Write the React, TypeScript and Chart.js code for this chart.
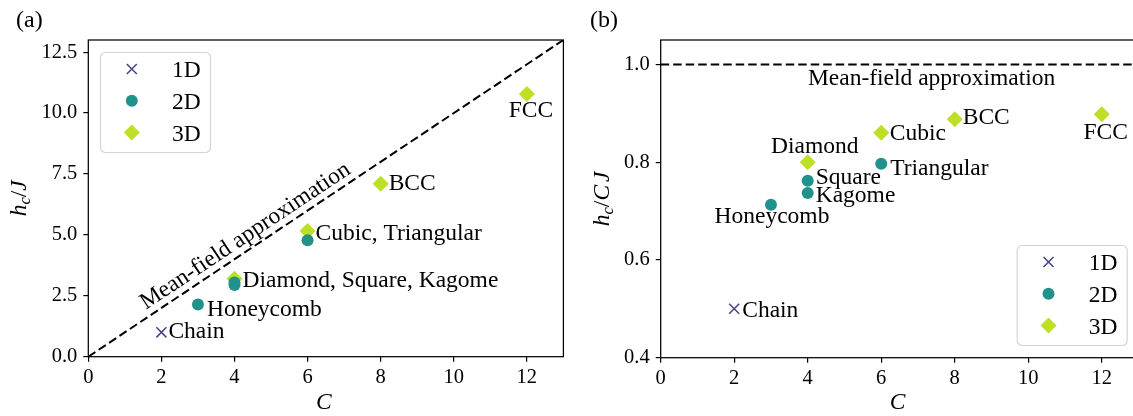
import React, { useEffect, useRef } from 'react';
import { Chart, registerables } from 'chart.js';

Chart.register(...registerables);

const SERIF = '"Liberation Serif", "Times New Roman", serif';
const INK = '#000000';
const ANN_SIZE = 23.5;

// ---------- data ----------
const coordination1D = [2];
const coordination2D = [3, 4, 4, 6];
const coordination3D = [4, 6, 8, 12];
const hc1D = [1.0];
const hc2D = [2.14, 2.94, 3.05, 4.78];
const hc3D = [3.2, 5.16, 7.1, 10.78];
const ratio1D = [0.5];
const ratio2D = [0.713, 0.737, 0.762, 0.797];
const ratio3D = [0.8, 0.86, 0.888, 0.898];

const meanFieldA = [{ x: 0, y: 0 }, { x: 13, y: 13 }];
const meanFieldB = [{ x: 0, y: 1.0 }, { x: 13, y: 1.0 }];

const xTickValues = [0, 2, 4, 6, 8, 10, 12];
const yTicksA = [0, 2.5, 5, 7.5, 10, 12.5];
const yTicksB = [0.4, 0.6, 0.8, 1.0];

const legendLabels = ['1D', '2D', '3D'];

const labelsA = ['Chain', 'Honeycomb', 'Diamond, Square, Kagome', 'Cubic, Triangular', 'BCC', 'FCC'];
const labelXA = [2, 3, 4, 6, 8, 12];
const labelYA = [1.0, 2.14, 3.2, 5.16, 7.1, 10.78];

const labelsB = ['Chain', 'Honeycomb', 'Kagome', 'Square', 'Diamond', 'Triangular', 'Cubic', 'BCC', 'FCC'];
const labelXB = [2, 3, 4, 4, 4, 6, 6, 8, 12];
const labelYB = [0.5, 0.713, 0.737, 0.762, 0.8, 0.797, 0.86, 0.888, 0.898];

const meanFieldText = 'Mean-field approximation';
const meanFieldAnchorA = { x: 4.5, y: 4.5 };
const meanFieldAnchorB = { x: 7.37, y: 1.0 };

// ---------- styles ----------
const COLOR_1D = '#414487';
const COLOR_2D = '#21918c';
const COLOR_3D = '#bddf26';

// [dx, dy, align] pixel offsets of label baseline from its point
const offsetsA: [number, number, CanvasTextAlign][] = [
  [7, 6, 'left'], [9, 11, 'left'], [8, 8, 'left'], [8, 9, 'left'], [8, 6, 'left'], [4, 23, 'center'],
];
const offsetsB: [number, number, CanvasTextAlign][] = [
  [8, 8, 'left'], [1, 18, 'center'], [8, 9.5, 'left'], [8, 3, 'left'], [7, -9, 'center'],
  [9, 11, 'left'], [8.5, 7, 'left'], [8, 5, 'left'], [4, 25, 'center'],
];

const zip = (xs: number[], ys: number[]) => xs.map((x, i) => ({ x, y: ys[i] }));

function drawMarker(ctx: CanvasRenderingContext2D, kind: number, x: number, y: number) {
  ctx.save();
  if (kind === 0) {
    const h = 5;
    ctx.strokeStyle = COLOR_1D;
    ctx.lineWidth = 1.5;
    ctx.beginPath();
    ctx.moveTo(x - h, y - h); ctx.lineTo(x + h, y + h);
    ctx.moveTo(x - h, y + h); ctx.lineTo(x + h, y - h);
    ctx.stroke();
  } else if (kind === 1) {
    ctx.fillStyle = COLOR_2D;
    ctx.beginPath();
    ctx.arc(x, y, 6, 0, Math.PI * 2);
    ctx.fill();
  } else {
    const r = 8;
    ctx.fillStyle = COLOR_3D;
    ctx.beginPath();
    ctx.moveTo(x - r, y); ctx.lineTo(x, y - r); ctx.lineTo(x + r, y); ctx.lineTo(x, y + r);
    ctx.closePath();
    ctx.fill();
  }
  ctx.restore();
}

type Part = { t: string; italic?: boolean; size?: number; dy?: number; gap?: number };

function drawParts(ctx: CanvasRenderingContext2D, parts: Part[], cx: number, baseline: number) {
  const widths = parts.map((p) => {
    ctx.font = `${p.italic ? 'italic ' : ''}${p.size ?? ANN_SIZE}px ${SERIF}`;
    return ctx.measureText(p.t).width + (p.gap ?? 0);
  });
  const total = widths.reduce((a, b) => a + b, 0);
  let x = cx - total / 2;
  parts.forEach((p, i) => {
    ctx.font = `${p.italic ? 'italic ' : ''}${p.size ?? ANN_SIZE}px ${SERIF}`;
    ctx.fillText(p.t, x, baseline + (p.dy ?? 0));
    x += widths[i];
  });
}

type PanelCfg = {
  panel: string;
  panelLabelX: number;
  yMin: number; yMax: number;
  yTicks: number[];
  yTitle: Part[];
  yTitleX: number;
  padRight: number;
  yAxisWidth: number;
  xAxisHeight: number;
  hc1: number[]; hc2: number[]; hc3: number[];
  meanField: { x: number; y: number }[];
  labels: string[]; lx: number[]; ly: number[];
  offsets: [number, number, CanvasTextAlign][];
  meanAnchor: { x: number; y: number };
  meanRotated: boolean;
  legendPos: 'ul' | 'lr';
};

function makePlugin(cfg: PanelCfg) {
  return {
    id: 'decor' + cfg.panel,
    afterDatasetsDraw(chart: any) {
      const ctx: CanvasRenderingContext2D = chart.ctx;
      const xs = chart.scales.x;
      const ys = chart.scales.y;
      const ca = chart.chartArea;
      ctx.save();
      ctx.fillStyle = INK;
      ctx.font = `${ANN_SIZE}px ${SERIF}`;
      ctx.textBaseline = 'alphabetic';
      cfg.labels.forEach((t, i) => {
        const [dx, dy, al] = cfg.offsets[i];
        ctx.textAlign = al;
        ctx.fillText(t, xs.getPixelForValue(cfg.lx[i]) + dx, ys.getPixelForValue(cfg.ly[i]) + dy);
      });
      // mean-field label
      const mx = xs.getPixelForValue(cfg.meanAnchor.x);
      const my = ys.getPixelForValue(cfg.meanAnchor.y);
      ctx.textAlign = 'center';
      if (cfg.meanRotated) {
        const p0x = xs.getPixelForValue(cfg.meanField[0].x);
        const p0y = ys.getPixelForValue(cfg.meanField[0].y);
        const p1x = xs.getPixelForValue(cfg.meanField[1].x);
        const p1y = ys.getPixelForValue(cfg.meanField[1].y);
        const ang = Math.atan2(p1y - p0y, p1x - p0x);
        ctx.translate(mx, my);
        ctx.rotate(ang);
        ctx.fillText(meanFieldText, 0, -7);
        ctx.setTransform(1, 0, 0, 1, 0, 0);
      } else {
        ctx.fillText(meanFieldText, mx, my + 21);
      }
      // spines
      ctx.strokeStyle = '#000';
      ctx.lineWidth = 1.25;
      ctx.strokeRect(ca.left, ca.top, ca.right - ca.left, ca.bottom - ca.top);
      ctx.restore();
    },
    afterDraw(chart: any) {
      const ctx: CanvasRenderingContext2D = chart.ctx;
      const ca = chart.chartArea;
      ctx.save();
      // legend
      const w = 110, h = 100;
      const bx = cfg.legendPos === 'ul' ? ca.left + 11.7 : ca.right - 11.8 - w;
      const by = cfg.legendPos === 'ul' ? ca.top + 12 : ca.bottom - 12.7 - h;
      ctx.beginPath();
      ctx.roundRect(bx + 0.5, by + 0.5, w, h, 5);
      ctx.fillStyle = 'rgba(255,255,255,0.8)';
      ctx.fill();
      ctx.strokeStyle = '#d5d5d5';
      ctx.lineWidth = 1.2;
      ctx.stroke();
      ctx.font = `${ANN_SIZE}px ${SERIF}`;
      ctx.fillStyle = INK;
      ctx.textAlign = 'left';
      ctx.textBaseline = 'alphabetic';
      legendLabels.forEach((t, i) => {
        const ry = by + 17 + i * 31.8;
        drawMarker(ctx, i, bx + 31.8, ry);
        ctx.fillStyle = INK;
        ctx.fillText(t, bx + 72, ry + 8);
      });
      // axis titles
      ctx.textAlign = 'left';
      drawParts(ctx, [{ t: 'C', italic: true }], (ca.left + ca.right) / 2 - 2, 409);
      ctx.translate(cfg.yTitleX, (ca.top + ca.bottom) / 2);
      ctx.rotate(-Math.PI / 2);
      drawParts(ctx, cfg.yTitle, 0, 7);
      ctx.setTransform(1, 0, 0, 1, 0, 0);
      // panel label
      ctx.font = `24px ${SERIF}`;
      ctx.fillText(cfg.panel, cfg.panelLabelX, 27);
      ctx.restore();
    },
  };
}

function makeChart(canvas: HTMLCanvasElement, cfg: PanelCfg) {
  const fontTicks = { family: SERIF, size: 20.5 };
  return new Chart(canvas, {
    type: 'scatter',
    data: {
      datasets: [
        {
          label: 'mean field',
          data: cfg.meanField,
          showLine: true,
          borderColor: '#000',
          borderWidth: 2,
          borderDash: [8.5, 4],
          pointRadius: 0,
          fill: false,
        } as any,
        {
          label: '1D',
          data: zip(coordination1D, cfg.hc1),
          pointStyle: 'crossRot',
          pointRadius: 7.1,
          borderColor: COLOR_1D,
          backgroundColor: COLOR_1D,
          borderWidth: 1.5,
        },
        {
          label: '2D',
          data: zip(coordination2D, cfg.hc2),
          pointStyle: 'circle',
          pointRadius: 6,
          borderWidth: 0,
          backgroundColor: COLOR_2D,
        },
        {
          label: '3D',
          data: zip(coordination3D, cfg.hc3),
          pointStyle: 'rectRot',
          pointRadius: 8,
          borderWidth: 0,
          backgroundColor: COLOR_3D,
        },
      ],
    },
    options: {
      responsive: false,
      animation: false,
      events: [],
      layout: { padding: { left: 0, top: 40, right: cfg.padRight, bottom: 0 } },
      plugins: { legend: { display: false }, tooltip: { enabled: false } },
      scales: {
        x: {
          type: 'linear',
          min: 0,
          max: 13,
          afterBuildTicks: (s: any) => { s.ticks = xTickValues.map((v) => ({ value: v })); },
          afterFit: (s: any) => { s.height = cfg.xAxisHeight; },
          ticks: { font: fontTicks, color: INK, padding: 4, maxRotation: 0, callback: (v: any) => String(v) },
          grid: { drawOnChartArea: false, drawTicks: true, tickLength: 5, color: '#000', lineWidth: 1.2 },
          border: { display: false },
        },
        y: {
          type: 'linear',
          min: cfg.yMin,
          max: cfg.yMax,
          afterBuildTicks: (s: any) => { s.ticks = cfg.yTicks.map((v) => ({ value: v })); },
          afterFit: (s: any) => { s.width = cfg.yAxisWidth; },
          ticks: { font: fontTicks, color: INK, padding: 6, callback: (v: any) => Number(v).toFixed(1) },
          grid: { drawOnChartArea: false, drawTicks: true, tickLength: 5, color: '#000', lineWidth: 1.2 },
          border: { display: false },
        },
      },
    },
    plugins: [makePlugin(cfg)],
  });
}

const panelA: PanelCfg = {
  panel: '(a)',
  panelLabelX: 16,
  yMin: 0, yMax: 13,
  yTicks: yTicksA,
  yTitle: [
    { t: 'h', italic: true },
    { t: 'c', italic: true, size: 16.5, dy: 4 },
    { t: '/', gap: 0 },
    { t: 'J', italic: true },
  ],
  yTitleX: 18.5,
  padRight: 6,
  yAxisWidth: 88.3,
  xAxisHeight: 59.3,
  hc1: hc1D, hc2: hc2D, hc3: hc3D,
  meanField: meanFieldA,
  labels: labelsA, lx: labelXA, ly: labelYA,
  offsets: offsetsA,
  meanAnchor: meanFieldAnchorA,
  meanRotated: true,
  legendPos: 'ul',
};

const panelB: PanelCfg = {
  panel: '(b)',
  panelLabelX: 18,
  yMin: 0.4, yMax: 1.05,
  yTicks: yTicksB,
  yTitle: [
    { t: 'h', italic: true },
    { t: 'c', italic: true, size: 16.5, dy: 4 },
    { t: '/' },
    { t: 'C', italic: true, gap: 3 },
    { t: 'J', italic: true },
  ],
  yTitleX: 30,
  padRight: 13.5,
  yAxisWidth: 88.7,
  xAxisHeight: 58.3,
  hc1: ratio1D, hc2: ratio2D, hc3: ratio3D,
  meanField: meanFieldB,
  labels: labelsB, lx: labelXB, ly: labelYB,
  offsets: offsetsB,
  meanAnchor: meanFieldAnchorB,
  meanRotated: false,
  legendPos: 'lr',
};

export default function App() {
  const refA = useRef<HTMLCanvasElement>(null);
  const refB = useRef<HTMLCanvasElement>(null);
  useEffect(() => {
    const a = makeChart(refA.current!, panelA);
    const b = makeChart(refB.current!, panelB);
    return () => { a.destroy(); b.destroy(); };
  }, []);
  return (
    <div style={{ position: 'fixed', left: 0, top: 0, width: 1133, height: 416, overflow: 'hidden', background: '#fff' }}>
      <canvas ref={refA} width={572} height={416} style={{ position: 'absolute', left: 0, top: 0, width: 572, height: 416 }} />
      <canvas ref={refB} width={580} height={416} style={{ position: 'absolute', left: 572, top: 0, width: 580, height: 416 }} />
    </div>
  );
}
